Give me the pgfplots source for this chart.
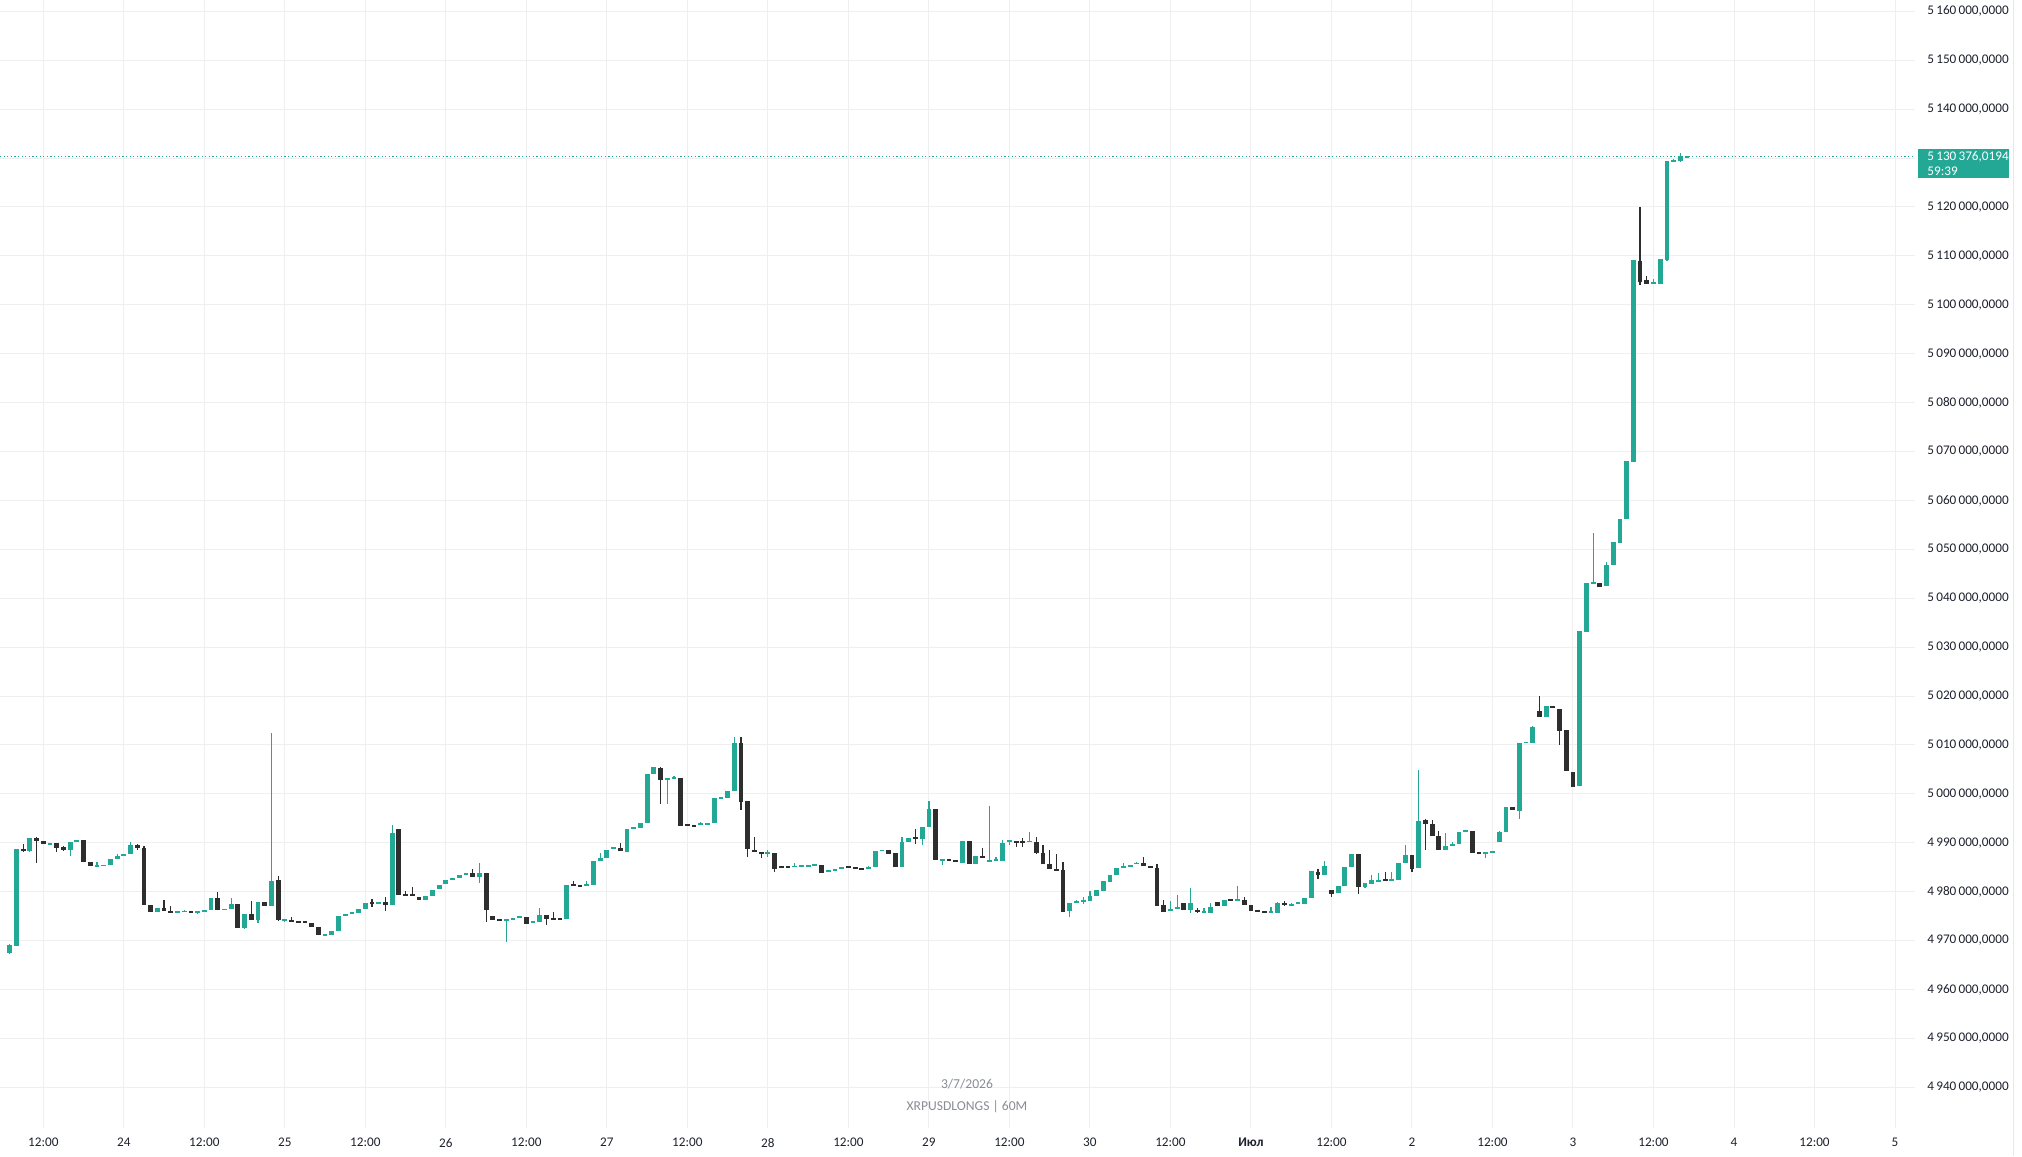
\documentclass[border=0pt]{standalone}
\usepackage{fontspec}
\setmainfont{Carlito}
\usepackage{pgfplots}
\pgfplotsset{compat=1.18}
\usepackage{pgfplotstable}
\definecolor{tvgreen}{HTML}{24A896}
\definecolor{tvdown}{HTML}{2E2E2E}
\definecolor{tvgrid}{HTML}{EFEFEF}
\definecolor{tvtext}{HTML}{1E222D}
\definecolor{tvwm}{HTML}{8A8D95}

\pgfplotstableread{
h O H L C
7 4967500 4969200 4967300 4969000
8 4968900 4988800 4968900 4988800
9 4988800 4989700 4988200 4988300
10 4988300 4991000 4988200 4991000
11 4991000 4991200 4985900 4990300
12 4990300 4990300 4989700 4989700
13 4989700 4989900 4989700 4989900
14 4989900 4989900 4988200 4989000
15 4989200 4989300 4988400 4988600
16 4988600 4990100 4987300 4990100
17 4990100 4990500 4990100 4990500
18 4990500 4990500 4986000 4986000
19 4986000 4986000 4985200 4985200
20 4985200 4986000 4985200 4985300
21 4985300 4985400 4985300 4985400
22 4985400 4986600 4985400 4986600
23 4986600 4987700 4986600 4987300
24 4987300 4987600 4987300 4987600
25 4987600 4990100 4987600 4989500
26 4989500 4989800 4988500 4989000
27 4989000 4989400 4977200 4977200
28 4977200 4977200 4975900 4975900
29 4975900 4976600 4975900 4976600
30 4976600 4978300 4976100 4976100
31 4976100 4977000 4975700 4975700
32 4975800 4975900 4975800 4975900
33 4975900 4976200 4975900 4976000
34 4976000 4976000 4975700 4975800
35 4975800 4976100 4975400 4975900
36 4975900 4976200 4975900 4976200
37 4976200 4978700 4976200 4978700
38 4978800 4979900 4976300 4976300
39 4976300 4976400 4976300 4976400
40 4976400 4978600 4976400 4977500
41 4977500 4977500 4972500 4972500
42 4972500 4975500 4972300 4975500
43 4975500 4978100 4974200 4974200
44 4974200 4977900 4973500 4977900
45 4977900 4977900 4977000 4977000
46 4977000 5012500 4977000 4982100
47 4982300 4983200 4974100 4974100
48 4974100 4974400 4973800 4974150
49 4974300 4974900 4973800 4973800
50 4973900 4973900 4973850 4973850
51 4973900 4973900 4973500 4973500
52 4973600 4973600 4972800 4972800
53 4972800 4972800 4971100 4971100
54 4971100 4971200 4971100 4971200
55 4971100 4972000 4971100 4972000
56 4972000 4975100 4972000 4975100
57 4975100 4975300 4975100 4975300
58 4975500 4975600 4975500 4975600
59 4975600 4976500 4975600 4976500
60 4976500 4977600 4976500 4977600
61 4977750 4978600 4976900 4977700
62 4977500 4977900 4977500 4977900
63 4977900 4978900 4976000 4977200
64 4977200 4993600 4977200 4992000
65 4992900 4992900 4979400 4979400
66 4979600 4980100 4979100 4979100
67 4979500 4981000 4979100 4979100
68 4979000 4979000 4978300 4978300
69 4978300 4979100 4978300 4979100
70 4979100 4980400 4979100 4980400
71 4980600 4981300 4980600 4981300
72 4981500 4982300 4981500 4982300
73 4982400 4982800 4982400 4982800
74 4982800 4983500 4982800 4983500
75 4983500 4983600 4983500 4983600
76 4983900 4984600 4983000 4983000
77 4983000 4985900 4981800 4983900
78 4983900 4983900 4973800 4976300
79 4975000 4975000 4974200 4974200
80 4974250 4974250 4974100 4974200
81 4974200 4974400 4969700 4974400
82 4974400 4974500 4974400 4974500
83 4974700 4974800 4974700 4974800
84 4974900 4974900 4973300 4973300
85 4973500 4974000 4973500 4974000
86 4973800 4976600 4973800 4975300
87 4975300 4975300 4973100 4974300
88 4974600 4975900 4974200 4974200
89 4974350 4974350 4974300 4974300
90 4974300 4981300 4974300 4981300
91 4981400 4982100 4981200 4981200
92 4981250 4981250 4981200 4981200
93 4981200 4982200 4981200 4981500
94 4981300 4986200 4981300 4986200
95 4986200 4987900 4986200 4986800
96 4986800 4988500 4986800 4988500
97 4988900 4989000 4988900 4989000
98 4989000 4989900 4988300 4988300
99 4988200 4992900 4988200 4992900
100 4993000 4993100 4993000 4993100
101 4993000 4994000 4993000 4994000
102 4994000 5004100 4994000 5004100
103 5004100 5005500 5004100 5005500
104 5005500 5005500 4998100 5003000
105 5003000 5003100 4998100 5003100
106 5003200 5003800 5003200 5003300
107 5003300 5003300 4993400 4993400
108 4993600 4993600 4993500 4993550
109 4993500 4993500 4993400 4993400
110 4993700 4994200 4993700 4993800
111 4993700 4994000 4993700 4994000
112 4994000 4999100 4994000 4999100
113 4999100 4999200 4999100 4999200
114 4999100 5000600 4999100 5000600
115 5000600 5011700 5000600 5010500
116 5010500 5011600 4996700 4998500
117 4998500 4998500 4987100 4988800
118 4988600 4991200 4988000 4988000
119 4988000 4988000 4986800 4987700
120 4987900 4988500 4987000 4988000
121 4987900 4988000 4984100 4984700
122 4985050 4985050 4985000 4985000
123 4985050 4985050 4985000 4985000
124 4985100 4985800 4985100 4985200
125 4985100 4985300 4985100 4985300
126 4985300 4985350 4985300 4985350
127 4985400 4985450 4985400 4985450
128 4985400 4985400 4983900 4983900
129 4984200 4984250 4984200 4984250
130 4984300 4984700 4984300 4984700
131 4984700 4985000 4984700 4985000
132 4985050 4985300 4985000 4985000
133 4985000 4985000 4984600 4984600
134 4984750 4984750 4984700 4984700
135 4984800 4985300 4984800 4984850
136 4985100 4988300 4985100 4988300
137 4988400 4988450 4988400 4988450
138 4988500 4988500 4987800 4987800
139 4987800 4987800 4985100 4985100
140 4985100 4991200 4985100 4990100
141 4990100 4990900 4990100 4990900
142 4990950 4992900 4989700 4990900
143 4990800 4993300 4989500 4993300
144 4993300 4998600 4993300 4996900
145 4996900 4996900 4986500 4986500
146 4986500 4986600 4985400 4986600
147 4986700 4986700 4986200 4986200
148 4986250 4986250 4986200 4986200
149 4985900 4990400 4985900 4990400
150 4990400 4990400 4985600 4985600
151 4985600 4987300 4985600 4987300
152 4987300 4988900 4986800 4986800
153 4986300 4997500 4986300 4986400
154 4986400 4987000 4986400 4986500
155 4986200 4990500 4986200 4990000
156 4990200 4990600 4989500 4990500
157 4990400 4990400 4989200 4989900
158 4990250 4990900 4989100 4990200
159 4990200 4992300 4990200 4990300
160 4990200 4991200 4987800 4987800
161 4987800 4989500 4985600 4985600
162 4985600 4988500 4984700 4984700
163 4984700 4987600 4984200 4984200
164 4984400 4986100 4975900 4975900
165 4976100 4977600 4974800 4977600
166 4977700 4978300 4977700 4978100
167 4978100 4979000 4977400 4978150
168 4978000 4980200 4978000 4979100
169 4979100 4980300 4979100 4980300
170 4980200 4982200 4980200 4982200
171 4982000 4983500 4982000 4983500
172 4983400 4984800 4983400 4984800
173 4985000 4985800 4985000 4985100
174 4985100 4985400 4985100 4985400
175 4985600 4986100 4985600 4985900
176 4985800 4987000 4985200 4985200
177 4985300 4985300 4984900 4984900
178 4984900 4985600 4977100 4977100
179 4977200 4978300 4975900 4975900
180 4976100 4978000 4976100 4976500
181 4976400 4979300 4976400 4976900
182 4977700 4977700 4976200 4976200
183 4976200 4980800 4975700 4977600
184 4976150 4976600 4975600 4976100
185 4975900 4976600 4975900 4975950
186 4975700 4977700 4975700 4976900
187 4977900 4977900 4977000 4977000
188 4977000 4978200 4977000 4978200
189 4978250 4978250 4978200 4978200
190 4978200 4981200 4978200 4978250
191 4978300 4979000 4977200 4977200
192 4977200 4977200 4976000 4976000
193 4976050 4976050 4976000 4976000
194 4976000 4976000 4975700 4975700
195 4975800 4976900 4975800 4975850
196 4975700 4977900 4975700 4977600
197 4977550 4978000 4977000 4977500
198 4977300 4977700 4977300 4977350
199 4977600 4977650 4977600 4977650
200 4977400 4978600 4977400 4978600
201 4978600 4984200 4978600 4984200
202 4984100 4984600 4982600 4983400
203 4983400 4986200 4983400 4985200
204 4980400 4980400 4978800 4979600
205 4979800 4981100 4979800 4981100
206 4981100 4985100 4981100 4985100
207 4985100 4987700 4985100 4987700
208 4987700 4987700 4979500 4980900
209 4980900 4981700 4980700 4981700
210 4981500 4983400 4981500 4982300
211 4982200 4983900 4982200 4982250
212 4982350 4984000 4982300 4982300
213 4982400 4984100 4982400 4982450
214 4982400 4985900 4982400 4985900
215 4985900 4989500 4985900 4987500
216 4987500 4987500 4984100 4984700
217 4984900 5004900 4984900 4994500
218 4994600 4994800 4988600 4993800
219 4993800 4994700 4991400 4991400
220 4991400 4992300 4988600 4988600
221 4988600 4992000 4988600 4989300
222 4989300 4990100 4989300 4989700
223 4989700 4992200 4989700 4992100
224 4992300 4992500 4992300 4992400
225 4992400 4992400 4987900 4987900
226 4987950 4987950 4987900 4987900
227 4987900 4987950 4986900 4987950
228 4988000 4988100 4988000 4988100
229 4990100 4992300 4990100 4992200
230 4992100 4997400 4992100 4997400
231 4997400 4997400 4996600 4996600
232 4996600 5010500 4995000 5010500
233 5010500 5010700 5010500 5010600
234 5010500 5014000 5010500 5013900
235 5016900 5020100 5015800 5015800
236 5015800 5018000 5015800 5018000
237 5017850 5017850 5017800 5017800
238 5017500 5017500 5010200 5013000
239 5013000 5013000 5004700 5004700
240 5004700 5004700 5001600 5001600
241 5001600 5033300 5001600 5033300
242 5033300 5043200 5033300 5043200
243 5043200 5053300 5043200 5043250
244 5043200 5043200 5042500 5042500
245 5042500 5047500 5042500 5046800
246 5046800 5051600 5046800 5051600
247 5051400 5056200 5051400 5056200
248 5056200 5068000 5056200 5068000
249 5068000 5109200 5068000 5109200
250 5109100 5120000 5104000 5104800
251 5105100 5105900 5104400 5104400
252 5104400 5105400 5104400 5104450
253 5104200 5109500 5104200 5109500
254 5109300 5129400 5109000 5129400
255 5129600 5130000 5129600 5129650
256 5129400 5131200 5129400 5130500
257 5130300 5130400 5130300 5130376.0194
}\candles

\begin{document}
\begin{tikzpicture}
\fill[white] (0,0) rectangle (1011pt,578pt);
\path[use as bounding box] (0,0) rectangle (1011pt,578pt);
\draw[black!9, line width=0.5pt] (1006.5pt,0) -- (1006.5pt,578pt);
\begin{axis}[
  at={(0pt,14pt)}, anchor=south west,
  scale only axis, width=957.5pt, height=564pt,
  xmin=5.545, xmax=290.98, ymin=4931660, ymax=5162330,
  axis line style={draw=none}, tick style={draw=none},
  major tick length=0pt,
  grid=major, major grid style={tvgrid, line width=0.5pt},
  scaled y ticks=false, scaled x ticks=false,
  xtick={12,24,36,48,60,72,84,96,108,120,132,144,156,168,180,192,204,216,228,240,252,264,276,288},
  xticklabels={12:00,24,12:00,25,12:00,26,12:00,27,12:00,28,12:00,29,12:00,30,12:00,\textbf{Июл},12:00,2,12:00,3,12:00,4,12:00,5},
  ytick={4940000,4950000,4960000,4970000,4980000,4990000,5000000,5010000,5020000,5030000,5040000,5050000,5060000,5070000,5080000,5090000,5100000,5110000,5120000,5130000,5140000,5150000,5160000},
  yticklabels={{4\,940\,000,0000},{4\,950\,000,0000},{4\,960\,000,0000},{4\,970\,000,0000},{4\,980\,000,0000},{4\,990\,000,0000},{5\,000\,000,0000},{5\,010\,000,0000},{5\,020\,000,0000},{5\,030\,000,0000},{5\,040\,000,0000},{5\,050\,000,0000},{5\,060\,000,0000},{5\,070\,000,0000},{5\,080\,000,0000},{5\,090\,000,0000},{5\,100\,000,0000},{5\,110\,000,0000},{5\,120\,000,0000},{},{5\,140\,000,0000},{5\,150\,000,0000},{5\,160\,000,0000}},
  yticklabel pos=right,
  tick label style={font=\fontsize{6.6pt}{8pt}\selectfont, text=tvtext},
  yticklabel style={anchor=west, inner sep=0pt, xshift=6pt},
  xticklabel style={anchor=north, inner sep=0pt, yshift=-5pt},
  clip=false,
]
% last-price dotted line
\addplot[tvgreen, line width=0.5pt, dash pattern=on 0.6pt off 1.2pt] coordinates {(5.545,5130376.0194) (290.98,5130376.0194)};
% wicks
\addplot[draw=none, mark=none, error bars/.cd, y dir=both, y explicit, error mark=none,
  error bar style={draw=tvgreen, line width=0.6pt}]
  table[x=h, y expr={\thisrow{C}>=\thisrow{O} ? (\thisrow{H}+\thisrow{L})/2 : nan},
        y error expr={(\thisrow{H}-\thisrow{L})/2}] {\candles};
\addplot[draw=none, mark=none, error bars/.cd, y dir=both, y explicit, error mark=none,
  error bar style={draw=tvdown, line width=0.6pt}]
  table[x=h, y expr={\thisrow{C}<\thisrow{O} ? (\thisrow{H}+\thisrow{L})/2 : nan},
        y error expr={(\thisrow{H}-\thisrow{L})/2}] {\candles};
% bodies
\addplot[draw=none, mark=none, error bars/.cd, y dir=both, y explicit, error mark=none,
  error bar style={draw=tvgreen, line width=2.4pt}]
  table[x=h, y expr={\thisrow{C}>=\thisrow{O} ? (\thisrow{O}+\thisrow{C})/2 : nan},
        y error expr={max(abs(\thisrow{C}-\thisrow{O})/2,190)}] {\candles};
\addplot[draw=none, mark=none, error bars/.cd, y dir=both, y explicit, error mark=none,
  error bar style={draw=tvdown, line width=2.4pt}]
  table[x=h, y expr={\thisrow{C}<\thisrow{O} ? (\thisrow{O}+\thisrow{C})/2 : nan},
        y error expr={max(abs(\thisrow{C}-\thisrow{O})/2,190)}] {\candles};
% price label
\node[fill=tvgreen, text=white, anchor=north west, align=left, text width=36.5pt,
  inner xsep=4.5pt, inner ysep=1.2pt, font=\fontsize{6.6pt}{7.6pt}\selectfont]
  at ([xshift=1.5pt, yshift=3.65pt]axis cs:290.98,5130376.0194) {5\,130\,376,0194\\59:39};
\end{axis}
\node[text=tvwm, font=\fontsize{6.8pt}{8pt}\selectfont, inner sep=0pt] at (483.5pt,36pt) {3/7/2026};
\node[text=tvwm, font=\fontsize{6.8pt}{8pt}\selectfont, inner sep=0pt] at (483.5pt,24.5pt) {XRPUSDLONGS | 60M};
\end{tikzpicture}
\end{document}
